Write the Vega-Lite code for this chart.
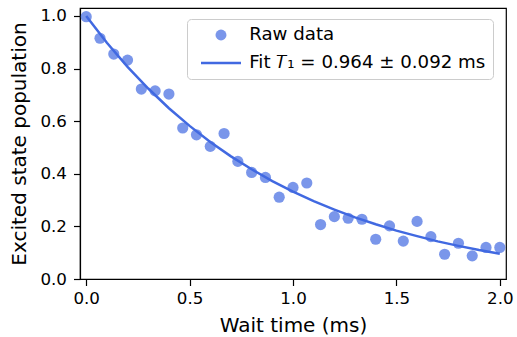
{
  "$schema": "https://vega.github.io/schema/vega-lite/v6.json",
  "width": 426,
  "height": 271,
  "autosize": {"type": "none"},
  "padding": {"left": 80, "top": 8, "right": 11, "bottom": 58},
  "background": "white",
  "config": {
    "font": "DejaVu Sans",
    "view": {"stroke": "black", "strokeWidth": 1.2},
    "axis": {
      "grid": false,
      "domainColor": "black",
      "domainWidth": 1.2,
      "tickColor": "black",
      "tickWidth": 1.2,
      "tickSize": 6.5,
      "labelColor": "black",
      "labelFont": "DejaVu Sans",
      "labelFontSize": 16.7,
      "titleFont": "DejaVu Sans",
      "titleFontSize": 20,
      "titleFontWeight": "normal",
      "titleColor": "black"
    }
  },
  "datasets": {
    "raw": [
      {"t": 0.0, "p": 0.997, "series": "Raw data"},
      {"t": 0.0667, "p": 0.915, "series": "Raw data"},
      {"t": 0.1333, "p": 0.855, "series": "Raw data"},
      {"t": 0.2, "p": 0.832, "series": "Raw data"},
      {"t": 0.2667, "p": 0.722, "series": "Raw data"},
      {"t": 0.3333, "p": 0.715, "series": "Raw data"},
      {"t": 0.4, "p": 0.703, "series": "Raw data"},
      {"t": 0.4667, "p": 0.574, "series": "Raw data"},
      {"t": 0.5333, "p": 0.548, "series": "Raw data"},
      {"t": 0.6, "p": 0.504, "series": "Raw data"},
      {"t": 0.6667, "p": 0.553, "series": "Raw data"},
      {"t": 0.7333, "p": 0.447, "series": "Raw data"},
      {"t": 0.8, "p": 0.405, "series": "Raw data"},
      {"t": 0.8667, "p": 0.386, "series": "Raw data"},
      {"t": 0.9333, "p": 0.311, "series": "Raw data"},
      {"t": 1.0, "p": 0.348, "series": "Raw data"},
      {"t": 1.0667, "p": 0.365, "series": "Raw data"},
      {"t": 1.1333, "p": 0.207, "series": "Raw data"},
      {"t": 1.2, "p": 0.237, "series": "Raw data"},
      {"t": 1.2667, "p": 0.231, "series": "Raw data"},
      {"t": 1.3333, "p": 0.227, "series": "Raw data"},
      {"t": 1.4, "p": 0.151, "series": "Raw data"},
      {"t": 1.4667, "p": 0.202, "series": "Raw data"},
      {"t": 1.5333, "p": 0.144, "series": "Raw data"},
      {"t": 1.6, "p": 0.219, "series": "Raw data"},
      {"t": 1.6667, "p": 0.161, "series": "Raw data"},
      {"t": 1.7333, "p": 0.094, "series": "Raw data"},
      {"t": 1.8, "p": 0.136, "series": "Raw data"},
      {"t": 1.8667, "p": 0.088, "series": "Raw data"},
      {"t": 1.9333, "p": 0.12, "series": "Raw data"},
      {"t": 2.0, "p": 0.12, "series": "Raw data"}
    ],
    "fit": [
      {"t": 0.0, "p": 1.0, "series": "Fit 𝑇₁ = 0.964 ± 0.092 ms"},
      {"t": 0.1, "p": 0.898, "series": "Fit 𝑇₁ = 0.964 ± 0.092 ms"},
      {"t": 0.2, "p": 0.806, "series": "Fit 𝑇₁ = 0.964 ± 0.092 ms"},
      {"t": 0.3, "p": 0.724, "series": "Fit 𝑇₁ = 0.964 ± 0.092 ms"},
      {"t": 0.4, "p": 0.649, "series": "Fit 𝑇₁ = 0.964 ± 0.092 ms"},
      {"t": 0.5, "p": 0.582, "series": "Fit 𝑇₁ = 0.964 ± 0.092 ms"},
      {"t": 0.6, "p": 0.521, "series": "Fit 𝑇₁ = 0.964 ± 0.092 ms"},
      {"t": 0.7, "p": 0.466, "series": "Fit 𝑇₁ = 0.964 ± 0.092 ms"},
      {"t": 0.8, "p": 0.417, "series": "Fit 𝑇₁ = 0.964 ± 0.092 ms"},
      {"t": 0.9, "p": 0.372, "series": "Fit 𝑇₁ = 0.964 ± 0.092 ms"},
      {"t": 1.0, "p": 0.332, "series": "Fit 𝑇₁ = 0.964 ± 0.092 ms"},
      {"t": 1.1, "p": 0.296, "series": "Fit 𝑇₁ = 0.964 ± 0.092 ms"},
      {"t": 1.2, "p": 0.264, "series": "Fit 𝑇₁ = 0.964 ± 0.092 ms"},
      {"t": 1.3, "p": 0.234, "series": "Fit 𝑇₁ = 0.964 ± 0.092 ms"},
      {"t": 1.4, "p": 0.208, "series": "Fit 𝑇₁ = 0.964 ± 0.092 ms"},
      {"t": 1.5, "p": 0.184, "series": "Fit 𝑇₁ = 0.964 ± 0.092 ms"},
      {"t": 1.6, "p": 0.163, "series": "Fit 𝑇₁ = 0.964 ± 0.092 ms"},
      {"t": 1.7, "p": 0.143, "series": "Fit 𝑇₁ = 0.964 ± 0.092 ms"},
      {"t": 1.8, "p": 0.126, "series": "Fit 𝑇₁ = 0.964 ± 0.092 ms"},
      {"t": 1.9, "p": 0.11, "series": "Fit 𝑇₁ = 0.964 ± 0.092 ms"},
      {"t": 2.0, "p": 0.096, "series": "Fit 𝑇₁ = 0.964 ± 0.092 ms"}
    ]
  },
  "encoding": {
    "x": {
      "field": "t",
      "type": "quantitative",
      "title": "Wait time (ms)",
      "scale": {"domain": [-0.03, 2.03], "nice": false, "zero": false},
      "axis": {"values": [0, 0.5, 1, 1.5, 2], "format": ".1f", "labelPadding": 5, "titlePadding": 8, "labelFlush": false}
    },
    "y": {
      "field": "p",
      "type": "quantitative",
      "title": "Excited state population",
      "scale": {"domain": [0, 1.03], "nice": false},
      "axis": {"values": [0, 0.2, 0.4, 0.6, 0.8, 1.0], "format": ".1f", "labelPadding": 7, "titlePadding": 10, "labelFlush": false}
    },
    "color": {
      "field": "series",
      "type": "nominal",
      "scale": {"domain": ["Raw data", "Fit 𝑇₁ = 0.964 ± 0.092 ms"], "range": ["#4169e1", "#4169e1"]},
      "legend": {
        "orient": "none",
        "legendX": 107,
        "legendY": 11,
        "title": null,
        "symbolType": "stroke",
        "symbolSize": 1600,
        "symbolStrokeWidth": 2.5,
        "clipHeight": 18,
        "labelFont": "DejaVu Sans",
        "labelFontSize": 18.2,
        "labelLimit": 500,
        "labelColor": "black",
        "labelOffset": 37,
        "padding": 7,
        "rowPadding": 9,
        "fillColor": "rgba(255,255,255,0.8)",
        "strokeColor": "#cccccc",
        "cornerRadius": 4,
        "encode": {
          "symbols": {
            "update": {
              "x": {"value": 27},
              "shape": {"signal": "datum.value == 'Raw data' ? 'circle' : 'stroke'"},
              "size": {"signal": "datum.value == 'Raw data' ? 120 : 1600"},
              "fill": {"signal": "datum.value == 'Raw data' ? '#4169e1' : 'transparent'"},
              "fillOpacity": {"signal": "datum.value == 'Raw data' ? 0.7 : 0"},
              "stroke": {"signal": "datum.value == 'Raw data' ? 'transparent' : '#4169e1'"},
              "strokeWidth": {"signal": "datum.value == 'Raw data' ? 0 : 2.5"},
              "strokeOpacity": {"value": 1},
              "opacity": {"value": 1}
            }
          }
        }
      }
    }
  },
  "layer": [
    {
      "data": {"name": "raw"},
      "mark": {"type": "point", "filled": true, "shape": "circle", "size": 125, "opacity": 0.7, "clip": true}
    },
    {
      "data": {"name": "fit"},
      "mark": {"type": "line", "strokeWidth": 2.5, "clip": true}
    }
  ]
}
